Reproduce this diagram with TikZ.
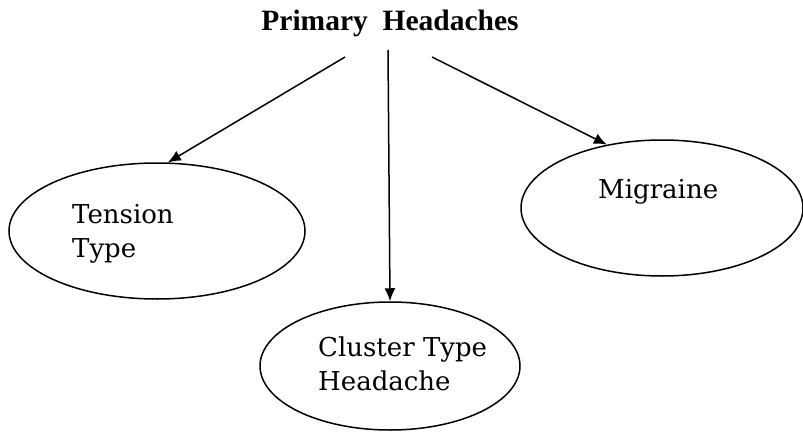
\documentclass[tikz,border=0pt]{standalone}
\usepackage{fontspec}
\setmainfont{DejaVu Serif}
\newfontfamily\titlefont{Liberation Serif}
\usetikzlibrary{shapes.geometric,arrows.meta}
\begin{document}
\begin{tikzpicture}[x=1pt,y=-1pt,
  oval/.style={draw,ellipse,line width=1.5pt,inner sep=0pt},
  conn/.style={line width=1.5pt,-{Latex[length=13pt,width=11pt]}},
  body/.style={font=\fontsize{26}{34}\selectfont,inner sep=0pt,anchor=base west,align=left}]
\useasboundingbox (0,0) rectangle (803,436);
\node[font=\titlefont\bfseries\fontsize{29.5}{32}\selectfont,inner sep=0pt,anchor=base] (title) at (390,31) {Primary\ \ Headaches};
\node[oval,minimum width=296pt,minimum height=136pt] (tension) at (157,231) {};
\node[oval,minimum width=282pt,minimum height=136pt] (migraine) at (662,208) {};
\node[oval,minimum width=260pt,minimum height=128pt] (cluster) at (390,366) {};
\node[body] (ttext) at (72,257) {Tension\\Type};
\node[body] (mtext) at (598,198) {Migraine};
\node[body] (ctext) at (318,390) {Cluster Type\\Headache};
\coordinate (s1) at (345,57);
\coordinate (s2) at (388,50);
\coordinate (s3) at (432,57);
\draw[conn] (s1) -- (tension.81);
\draw[conn] (s2) -- (cluster.north);
\draw[conn] (s3) -- (migraine.131);
\end{tikzpicture}
\end{document}
